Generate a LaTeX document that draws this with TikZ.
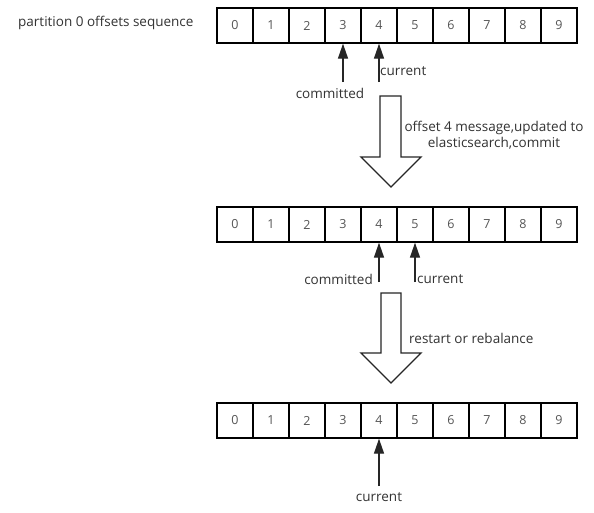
\documentclass[tikz,border=0pt]{standalone}
\usepackage{fontspec}
\setmainfont{Open Sans}
\usetikzlibrary{arrows.meta}
\definecolor{txt}{HTML}{333333}
\definecolor{dig}{HTML}{555555}
\tikzset{
  cell/.style={draw=black, line width=1.3pt, fill=white, minimum width=36pt, minimum height=35pt, inner sep=0pt, text=dig, font=\fontsize{12.5}{14}\selectfont},
  ptr/.style={draw=black!85, line width=1.3pt, -{Triangle[length=15pt,width=10pt]}},
  lbl/.style={text=txt, font=\fontsize{13.5}{16}\selectfont, inner sep=0pt},
  blockarrow/.style={draw=black!85, line width=1.3pt, fill=white, line join=miter}
}
\begin{document}
\begin{tikzpicture}[x=1pt,y=-1pt]
\useasboundingbox (0,0) rectangle (594,512);
\fill[white] (0,0) rectangle (594,512);
% arrays
\foreach \i in {0,...,9} {
  \node[cell] (a\i) at (235+36*\i,25.5) {\i};
  \node[cell] (b\i) at (235+36*\i,224.5) {\i};
  \node[cell] (c\i) at (235+36*\i,420.5) {\i};
}
\node[lbl, anchor=west] (title) at (18,23) {partition 0 offsets sequence};
% first array pointers
\coordinate (p1) at (343,82);
\coordinate (p2) at (379,82);
\draw[ptr] (p1) -- (a3.south);
\draw[ptr] (p2) -- (a4.south);
\node[lbl] (lcom1) at (330,93) {committed};
\node[lbl, anchor=west] (lcur1) at (380,71) {current};
% block arrow 1
\draw[blockarrow] (380,96) -- (401,96) -- (401,157) -- (421,157) -- (391,187) -- (361,157) -- (380,157) -- cycle;
\node[lbl, align=center] (step1) at (494,135) {offset 4 message,updated to\\elasticsearch,commit};
% second array pointers
\coordinate (q1) at (379,282);
\coordinate (q2) at (415,282);
\draw[ptr] (q1) -- (b4.south);
\draw[ptr] (q2) -- (b5.south);
\node[lbl, anchor=east] (lcom2) at (373,279) {committed};
\node[lbl, anchor=west] (lcur2) at (417,279) {current};
% block arrow 2
\draw[blockarrow] (381,293) -- (401,293) -- (401,353) -- (421,353) -- (391,383) -- (361,353) -- (381,353) -- cycle;
\node[lbl, anchor=west] (step2) at (409,338) {restart or rebalance};
% third array pointer
\coordinate (r1) at (379,486);
\draw[ptr] (r1) -- (c4.south);
\node[lbl] (lcur3) at (379,497) {current};
\end{tikzpicture}
\end{document}
